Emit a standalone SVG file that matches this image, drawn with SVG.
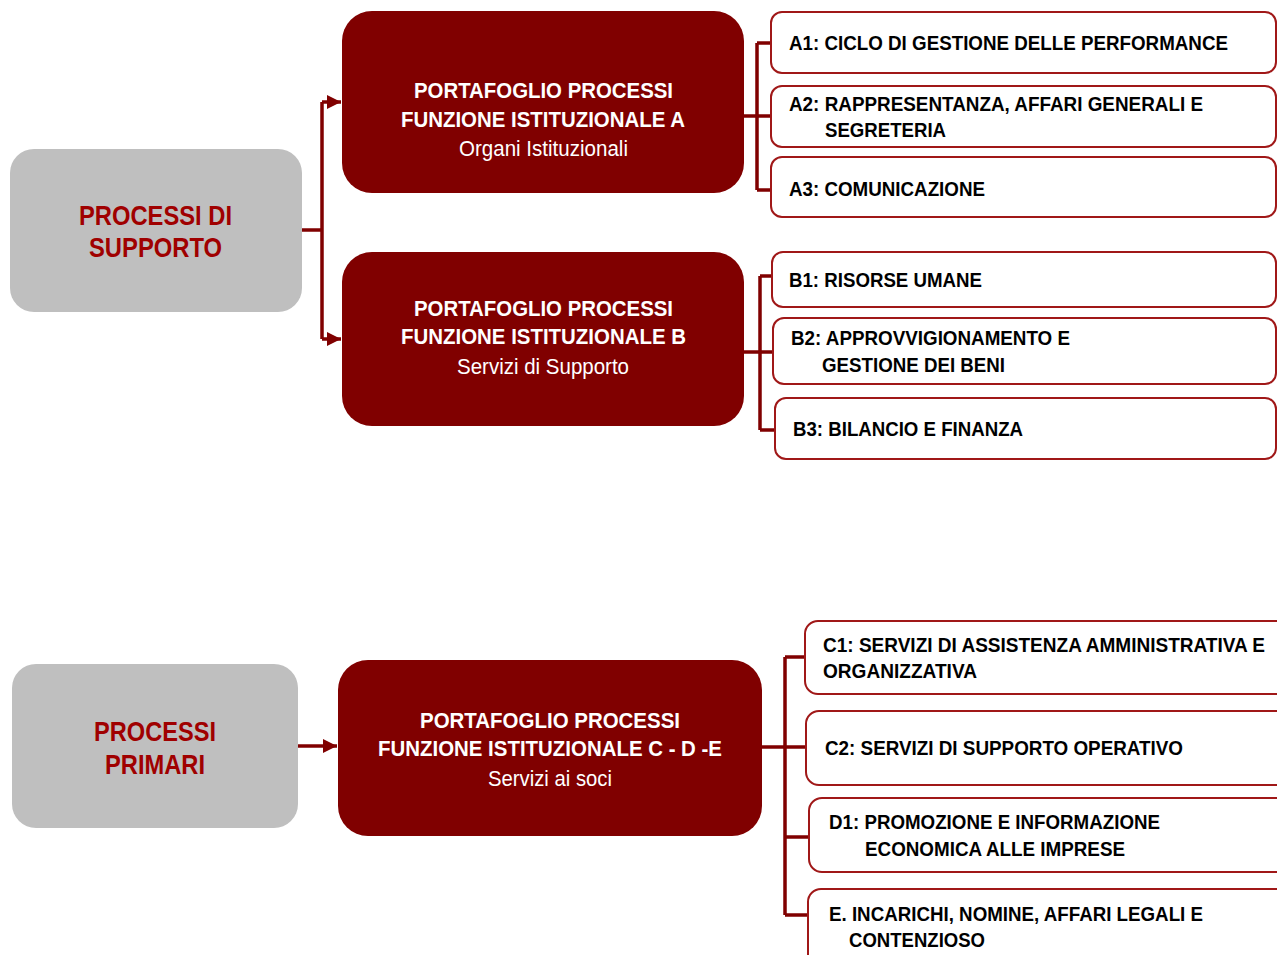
<svg xmlns="http://www.w3.org/2000/svg" width="1277" height="955" viewBox="0 0 1277 955">
<defs>
<style>
.gray{fill:#BFBFBF}
.port{fill:#800000}
.child{fill:#FFFFFF;stroke:#A01818;stroke-width:2}
.conn{fill:none;stroke:#800000;stroke-width:3.5}
.gt{font-family:"Liberation Sans Narrow","Arial Narrow","Liberation Sans",sans-serif;font-weight:bold;font-size:28px;fill:#A00000;text-anchor:middle}
.pt{font-family:"Liberation Sans Narrow","Arial Narrow","Liberation Sans",sans-serif;font-weight:bold;font-size:22px;fill:#FFFFFF;text-anchor:middle}
.ps{font-family:"Liberation Sans Narrow","Arial Narrow","Liberation Sans",sans-serif;font-size:22px;fill:#FFFFFF;text-anchor:middle}
.ct{font-family:"Liberation Sans Narrow","Arial Narrow","Liberation Sans",sans-serif;font-weight:bold;font-size:20px;fill:#000000}
</style>
<marker id="arr" viewBox="0 0 10 10" refX="10" refY="5" markerWidth="4" markerHeight="4" orient="auto" markerUnits="strokeWidth">
<path d="M0,0 L10,5 L0,10 Z" fill="#800000"/>
</marker>
</defs>
<rect width="1277" height="955" fill="#FFFFFF"/>

<g id="connectors">
<path class="conn" d="M302,230 H322 M322,102 V339"/>
<path class="conn" d="M322,102 H341" marker-end="url(#arr)"/>
<path class="conn" d="M322,339 H341" marker-end="url(#arr)"/>
<path class="conn" d="M744,116 H771 M757,43 V190 M757,43 H771 M757,190 H771"/>
<path class="conn" d="M744,352 H773 M760,276 V430 M760,276 H774 M760,430 H777"/>
<path class="conn" d="M298,746 H337" marker-end="url(#arr)"/>
<path class="conn" d="M762,747 H806 M785,657 V915 M785,657 H805 M785,837 H809 M785,915 H808"/>
</g>

<g id="processi-supporto">
<rect class="gray" x="10" y="149" width="292" height="163" rx="24"/>
<text class="gt" x="155.5" y="225" textLength="153" lengthAdjust="spacingAndGlyphs">PROCESSI DI</text>
<text class="gt" x="155.5" y="257" textLength="133" lengthAdjust="spacingAndGlyphs">SUPPORTO</text>
</g>

<g id="processi-primari">
<rect class="gray" x="12" y="664" width="286" height="164" rx="24"/>
<text class="gt" x="155" y="741" textLength="122" lengthAdjust="spacingAndGlyphs">PROCESSI</text>
<text class="gt" x="155" y="774" textLength="100" lengthAdjust="spacingAndGlyphs">PRIMARI</text>
</g>

<g id="portafoglio-a">
<rect class="port" x="342" y="11" width="402" height="182" rx="30"/>
<text class="pt" x="543.5" y="98" textLength="259" lengthAdjust="spacingAndGlyphs">PORTAFOGLIO PROCESSI</text>
<text class="pt" x="543" y="127" textLength="284" lengthAdjust="spacingAndGlyphs">FUNZIONE ISTITUZIONALE A</text>
<text class="ps" x="543.5" y="156" textLength="169" lengthAdjust="spacingAndGlyphs">Organi Istituzionali</text>
</g>

<g id="portafoglio-b">
<rect class="port" x="342" y="252" width="402" height="174" rx="30"/>
<text class="pt" x="543.5" y="316" textLength="259" lengthAdjust="spacingAndGlyphs">PORTAFOGLIO PROCESSI</text>
<text class="pt" x="543.5" y="344" textLength="285" lengthAdjust="spacingAndGlyphs">FUNZIONE ISTITUZIONALE B</text>
<text class="ps" x="543" y="374" textLength="172" lengthAdjust="spacingAndGlyphs">Servizi di Supporto</text>
</g>

<g id="portafoglio-c">
<rect class="port" x="338" y="660" width="424" height="176" rx="30"/>
<text class="pt" x="550" y="728" textLength="260" lengthAdjust="spacingAndGlyphs">PORTAFOGLIO PROCESSI</text>
<text class="pt" x="550" y="756" textLength="344" lengthAdjust="spacingAndGlyphs">FUNZIONE ISTITUZIONALE C - D -E</text>
<text class="ps" x="550" y="786" textLength="124" lengthAdjust="spacingAndGlyphs">Servizi ai soci</text>
</g>

<g id="a1">
<rect class="child" x="771" y="12" width="505" height="61" rx="11"/>
<text class="ct" x="789" y="50" textLength="439" lengthAdjust="spacingAndGlyphs">A1: CICLO DI GESTIONE DELLE PERFORMANCE</text>
</g>
<g id="a2">
<rect class="child" x="771" y="86" width="505" height="61" rx="11"/>
<text class="ct" x="789" y="111" textLength="414" lengthAdjust="spacingAndGlyphs">A2: RAPPRESENTANZA, AFFARI GENERALI E</text>
<text class="ct" x="825" y="137" textLength="121" lengthAdjust="spacingAndGlyphs">SEGRETERIA</text>
</g>
<g id="a3">
<rect class="child" x="771" y="157" width="505" height="60" rx="11"/>
<text class="ct" x="789" y="196" textLength="196" lengthAdjust="spacingAndGlyphs">A3: COMUNICAZIONE</text>
</g>

<g id="b1">
<rect class="child" x="772" y="252" width="504" height="55" rx="11"/>
<text class="ct" x="789" y="287" textLength="193" lengthAdjust="spacingAndGlyphs">B1: RISORSE UMANE</text>
</g>
<g id="b2">
<rect class="child" x="773" y="318" width="503" height="66" rx="11"/>
<text class="ct" x="791" y="345" textLength="279" lengthAdjust="spacingAndGlyphs">B2: APPROVVIGIONAMENTO E</text>
<text class="ct" x="822" y="372" textLength="183" lengthAdjust="spacingAndGlyphs">GESTIONE DEI BENI</text>
</g>
<g id="b3">
<rect class="child" x="775" y="398" width="501" height="61" rx="11"/>
<text class="ct" x="793" y="436" textLength="230" lengthAdjust="spacingAndGlyphs">B3: BILANCIO E FINANZA</text>
</g>

<g id="c1">
<rect class="child" x="805" y="621" width="490" height="73" rx="13"/>
<text class="ct" x="823" y="652" textLength="442" lengthAdjust="spacingAndGlyphs">C1: SERVIZI DI ASSISTENZA AMMINISTRATIVA E</text>
<text class="ct" x="823" y="678" textLength="154" lengthAdjust="spacingAndGlyphs">ORGANIZZATIVA</text>
</g>
<g id="c2">
<rect class="child" x="806" y="711" width="490" height="74" rx="13"/>
<text class="ct" x="825" y="755" textLength="358" lengthAdjust="spacingAndGlyphs">C2: SERVIZI DI SUPPORTO OPERATIVO</text>
</g>
<g id="d1">
<rect class="child" x="809" y="798" width="490" height="74" rx="13"/>
<text class="ct" x="829" y="829" textLength="331" lengthAdjust="spacingAndGlyphs">D1: PROMOZIONE E INFORMAZIONE</text>
<text class="ct" x="865" y="856" textLength="260" lengthAdjust="spacingAndGlyphs">ECONOMICA ALLE IMPRESE</text>
</g>
<g id="e">
<rect class="child" x="808" y="889" width="490" height="80" rx="13"/>
<text class="ct" x="829" y="921" textLength="374" lengthAdjust="spacingAndGlyphs">E. INCARICHI, NOMINE, AFFARI LEGALI E</text>
<text class="ct" x="849" y="947" textLength="136" lengthAdjust="spacingAndGlyphs">CONTENZIOSO</text>
</g>
</svg>
